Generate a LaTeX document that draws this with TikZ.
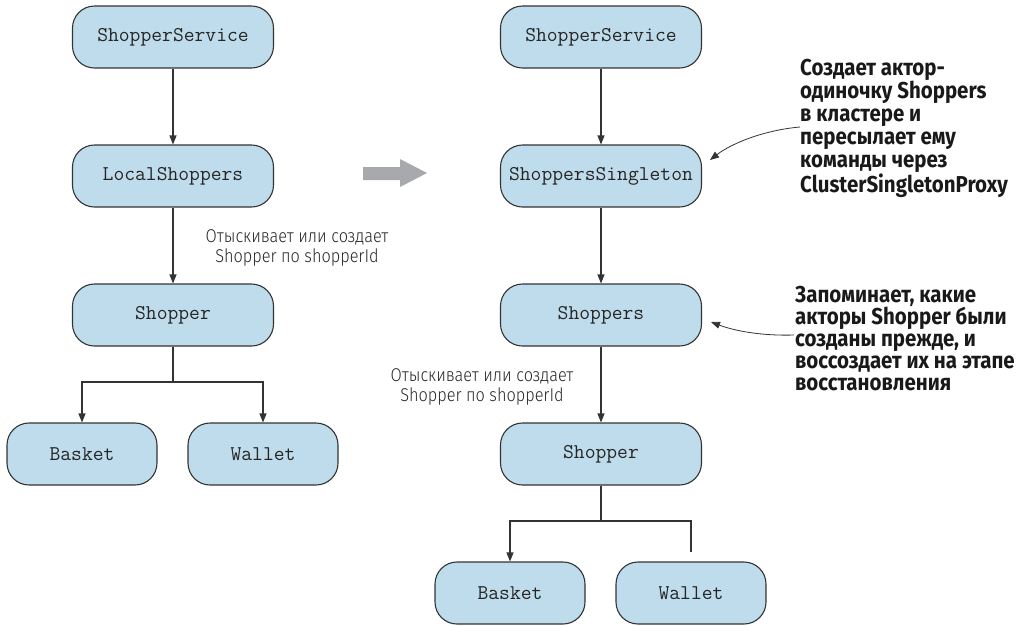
\documentclass[tikz,border=0pt]{standalone}
\usepackage{fontspec}
\newfontfamily\notefont[FakeStretch=0.89]{Fira Sans}
\newfontfamily\hintfont[FakeStretch=0.88]{Fira Sans Light}
\usetikzlibrary{arrows.meta}
\definecolor{boxfill}{HTML}{BEDCEB}
\definecolor{edge}{HTML}{333333}
\definecolor{bigarrow}{HTML}{A7A9AC}
\tikzset{
  box/.style={draw=edge, line width=1.1pt, fill=boxfill, rounded corners=22pt,
    minimum width=201pt, minimum height=62pt, inner sep=0pt,
    font=\fontsize{21}{22}\ttfamily, text=black!85},
  smallbox/.style={box, minimum width=150pt},
  conn/.style={draw=edge, line width=1.1pt, -{Triangle[length=9pt,width=7pt]}},
  plainconn/.style={draw=edge, line width=1.1pt},
  callout/.style={draw=edge, line width=0.8pt, -{Triangle[length=9pt,width=7pt]}},
  note/.style={align=left, inner sep=0pt, anchor=north west, text=black!90},
  hint/.style={align=center, inner sep=0pt,
    font=\hintfont\fontsize{18.5}{20}\selectfont, text=black!85},
}
\begin{document}
\begin{tikzpicture}[x=1pt, y=-1pt]
\useasboundingbox (0,0) rectangle (1027,625);

% local (non-clustered) hierarchy
\node[box] (lsvc)  at (173,37)  {ShopperService};
\node[box] (lloc)  at (173,176) {LocalShoppers};
\node[box] (lshop) at (173,315) {Shopper};
\node[smallbox] (lbask) at (82,454)  {Basket};
\node[smallbox] (lwal)  at (263,454) {Wallet};
\coordinate (lsplit) at (173,382);

\draw[conn] (lsvc) -- (lloc);
\draw[conn] (lloc) -- (lshop);
\draw[plainconn] (lshop) -- (lsplit);
\draw[conn] (lsplit) -| (lbask.north);
\draw[conn] (lsplit) -| (lwal.north);
\node[hint] (lhint) at (297,248) {Отыскивает или создает\\Shopper по shopperId};

% transition arrow
\fill[bigarrow] (363,167) -- (400,167) -- (400,159) -- (427,173) -- (400,187)
  -- (400,180) -- (363,180) -- cycle;

% clustered hierarchy
\node[box] (rsvc)   at (601,37)  {ShopperService};
\node[box] (rsing)  at (601,176) {ShoppersSingleton};
\node[box] (rshops) at (601,315) {Shoppers};
\node[box] (rshop)  at (601,454) {Shopper};
\node[smallbox] (rbask) at (510,593) {Basket};
\node[smallbox] (rwal)  at (691,593) {Wallet};
\coordinate (rsplit) at (601,521);
\coordinate (rwend) at (691,552);

\draw[conn] (rsvc) -- (rsing);
\draw[conn] (rsing) -- (rshops);
\draw[conn] (rshops) -- (rshop);
\draw[plainconn] (rshop) -- (rsplit);
\draw[conn] (rsplit) -| (rbask.north);
\draw[plainconn] (rsplit) -| (rwend);
\node[hint] (rhint) at (482,387) {Отыскивает или создает\\Shopper по shopperId};

% callouts
\node[note, font=\notefont\bfseries\fontsize{23}{23}\selectfont] (note1) at (800,59)
  {Создает актор-\\одиночку Shoppers\\в кластере и\\пересылает ему\\команды через\\ClusterSingletonProxy};
\node[note, font=\notefont\bfseries\fontsize{23}{22}\selectfont] (note2) at (795,286)
  {Запоминает, какие\\акторы Shopper были\\созданы прежде, и\\воссоздает их на этапе\\восстановления};
\coordinate (tail1) at (800,127);
\coordinate (tip1) at (710,160);
\coordinate (tail2) at (794,335);
\coordinate (tip2) at (711,322);
\draw[callout] (tail1) .. controls (765,130) and (732,143) .. (tip1);
\draw[callout] (tail2) .. controls (762,336) and (735,331) .. (tip2);
\end{tikzpicture}
\end{document}
